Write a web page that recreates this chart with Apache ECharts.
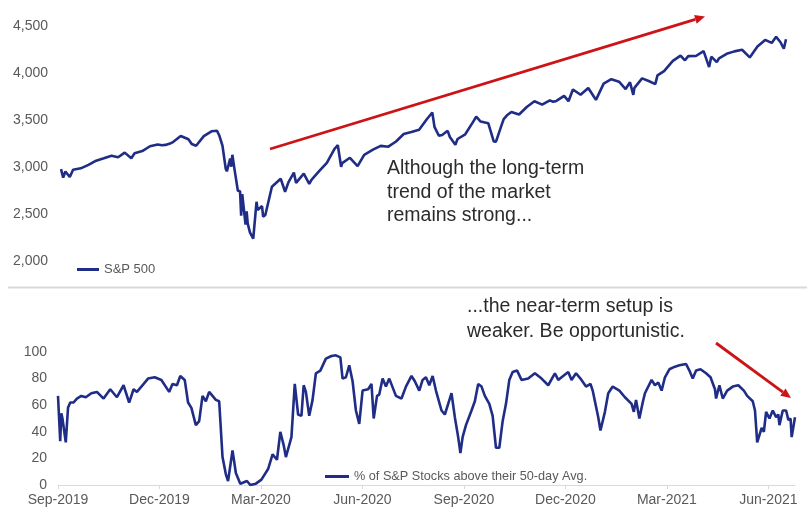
<!DOCTYPE html>
<html><head><meta charset="utf-8">
<script src="https://cdn.jsdelivr.net/npm/echarts@6/dist/echarts.min.js"></script>
<style>html,body{margin:0;padding:0;background:#fff}#c{width:807px;height:510px}</style>
</head><body><div id="c"></div>
<script>
const startDate = '2019-09-30';
const xTickLabels = ['Sep-2019','Dec-2019','Mar-2020','Jun-2020','Sep-2020','Dec-2020','Mar-2021','Jun-2021'];
const spxTickValues = [2000, 2500, 3000, 3500, 4000, 4500];
const breadthTickValues = [0, 20, 40, 60, 80, 100];

const spxDates = ['2019-09-30','2019-10-02','2019-10-04','2019-10-08','2019-10-11','2019-10-18','2019-10-25','2019-11-01','2019-11-08','2019-11-15','2019-11-21','2019-11-27','2019-12-03','2019-12-06','2019-12-13','2019-12-20','2019-12-27','2019-12-31',
'2020-01-03','2020-01-08','2020-01-10','2020-01-17','2020-01-24','2020-01-27','2020-01-31','2020-02-07','2020-02-14','2020-02-19','2020-02-21','2020-02-24','2020-02-27','2020-02-28','2020-03-02','2020-03-03','2020-03-04','2020-03-06','2020-03-09','2020-03-11','2020-03-12','2020-03-13','2020-03-16','2020-03-17','2020-03-18','2020-03-20','2020-03-23','2020-03-26','2020-03-27','2020-03-31','2020-04-01','2020-04-03','2020-04-09','2020-04-17','2020-04-21','2020-04-24','2020-04-29','2020-05-01','2020-05-08','2020-05-13','2020-05-15','2020-05-22','2020-05-29','2020-06-05','2020-06-08','2020-06-11','2020-06-12','2020-06-19','2020-06-26','2020-07-02','2020-07-10','2020-07-17','2020-07-24','2020-07-31','2020-08-07','2020-08-14','2020-08-21','2020-08-28','2020-09-02','2020-09-04','2020-09-08','2020-09-11','2020-09-16','2020-09-18','2020-09-23','2020-09-25','2020-10-02','2020-10-09','2020-10-12','2020-10-16','2020-10-23','2020-10-28','2020-10-30','2020-11-04','2020-11-06','2020-11-09','2020-11-13','2020-11-20','2020-11-27','2020-12-04','2020-12-11','2020-12-18','2020-12-21','2020-12-24','2020-12-31',
'2021-01-04','2021-01-08','2021-01-15','2021-01-22','2021-01-27','2021-01-29','2021-02-05','2021-02-12','2021-02-19','2021-02-25','2021-02-26','2021-03-01','2021-03-04','2021-03-05','2021-03-12','2021-03-18','2021-03-19','2021-03-24','2021-03-26','2021-04-01','2021-04-09','2021-04-16','2021-04-20','2021-04-23','2021-04-30','2021-05-07','2021-05-12','2021-05-14','2021-05-19','2021-05-21','2021-05-28','2021-06-04','2021-06-11','2021-06-18','2021-06-25','2021-07-02','2021-07-08','2021-07-12','2021-07-16','2021-07-19','2021-07-21'];
const spxValues = [2977,2887,2952,2893,2970,2986,3023,3067,3093,3120,3104,3153,3093,3146,3169,3221,3240,3231,
3235,3253,3265,3330,3295,3244,3226,3328,3380,3386,3338,3226,2979,2954,3090,3003,3130,2972,2747,2741,2481,2711,2386,2529,2398,2305,2237,2630,2541,2585,2471,2489,2790,2875,2737,2837,2940,2831,2930,2820,2864,2955,3044,3194,3232,3002,3041,3098,3009,3130,3185,3225,3216,3271,3351,3373,3397,3508,3580,3427,3332,3341,3385,3319,3237,3298,3348,3477,3535,3484,3465,3271,3270,3443,3510,3550,3585,3558,3638,3699,3663,3709,3694,3703,3756,
3700,3825,3768,3841,3750,3714,3887,3934,3907,3829,3811,3901,3768,3842,3943,3915,3913,3881,3975,4020,4129,4185,4135,4180,4181,4233,4063,4174,4116,4156,4204,4230,4247,4166,4281,4352,4320,4385,4327,4258,4359];

const breadthDates = ['2019-09-30','2019-10-02','2019-10-03','2019-10-04','2019-10-07','2019-10-09','2019-10-11','2019-10-14','2019-10-17','2019-10-21','2019-10-25','2019-10-30','2019-11-04','2019-11-10','2019-11-16','2019-11-22','2019-11-28','2019-12-03','2019-12-07','2019-12-10','2019-12-14','2019-12-20','2019-12-26',
'2020-01-01','2020-01-08','2020-01-11','2020-01-15','2020-01-18','2020-01-22','2020-01-25','2020-01-28','2020-02-01','2020-02-04','2020-02-07','2020-02-10','2020-02-13','2020-02-19','2020-02-22','2020-02-25','2020-02-28','2020-03-01','2020-03-05','2020-03-08','2020-03-12','2020-03-18','2020-03-21','2020-03-26','2020-03-31','2020-04-06','2020-04-10','2020-04-14','2020-04-17','2020-04-20','2020-04-22','2020-04-27','2020-04-30','2020-05-03','2020-05-06','2020-05-08','2020-05-10','2020-05-13','2020-05-16','2020-05-19','2020-05-23','2020-05-28','2020-06-02','2020-06-06','2020-06-10','2020-06-12','2020-06-15','2020-06-18','2020-06-21','2020-06-24','2020-06-27','2020-06-30','2020-07-05','2020-07-08','2020-07-10','2020-07-13','2020-07-15','2020-07-18','2020-07-21','2020-07-24','2020-07-30','2020-08-04','2020-08-08','2020-08-13','2020-08-16','2020-08-20','2020-08-23','2020-08-26','2020-08-29','2020-09-01','2020-09-04','2020-09-09','2020-09-12','2020-09-15','2020-09-18','2020-09-21','2020-09-24','2020-09-26','2020-09-28','2020-10-01','2020-10-06','2020-10-09','2020-10-12','2020-10-15','2020-10-18','2020-10-22','2020-10-25','2020-10-28','2020-10-31','2020-11-03','2020-11-06','2020-11-09','2020-11-12','2020-11-16','2020-11-20','2020-11-26','2020-12-02','2020-12-08','2020-12-14','2020-12-20','2020-12-23','2020-12-26',
'2021-01-01','2021-01-04','2021-01-08','2021-01-12','2021-01-17','2021-01-21','2021-01-23','2021-01-28','2021-01-30','2021-02-03','2021-02-06','2021-02-10','2021-02-16','2021-02-21','2021-02-27','2021-03-01','2021-03-03','2021-03-06','2021-03-09','2021-03-11','2021-03-17','2021-03-20','2021-03-23','2021-03-26','2021-03-29','2021-04-02','2021-04-07','2021-04-11','2021-04-17','2021-04-20','2021-04-23','2021-04-26','2021-04-30','2021-05-05','2021-05-09','2021-05-13','2021-05-14','2021-05-17','2021-05-20','2021-05-24','2021-05-29','2021-06-03','2021-06-08','2021-06-11','2021-06-16','2021-06-18','2021-06-20','2021-06-24','2021-06-26','2021-06-28','2021-07-01','2021-07-04','2021-07-07','2021-07-09','2021-07-10','2021-07-13','2021-07-16','2021-07-18','2021-07-20','2021-07-21','2021-07-24'];
const breadthValues = [67,33,54,50,32,58,62,62,65,67,66,69,70,65,72,66,75,62,72,70,74,80,81,
79,70,76,75,82,79,62,58,45,48,67,63,70,64,63,21,8,3,26,9,1,3,0,1,4,12,23,19,40,30,21,36,76,53,52,75,70,52,64,84,86,95,97,97.5,96,80,81,90,78,56,46,71,72,76,50,67,68,80,74,80,67,65,74,82,78,71,79,81,75,82,71,56,53,61,69,51,36,24,36,45,56,63,76,74,67,61,52,28,28,48,61,79,85,86,79,80,84,80,75,84,79,81,
85,79,84,80,74,76,71,51,41,55,69,74,71,66,61,55,64,50,62,69,79,75,77,71,81,87,89,90,91,86,80,86,87,84,81,72,65,75,65,71,74,75,71,67,63,56,32,43,40,55,50,56,51,53,45,56,56,49,50,36,51];

const DAY = 864e5;
const t0 = Date.parse(startDate);
const dayOf = d => (Date.parse(d) - t0) / DAY;
const spxData = spxDates.map((d, i) => [dayOf(d), spxValues[i]]);
const breadthData = breadthDates.map((d, i) => [dayOf(d), breadthValues[i]]);
const quarter = dayOf('2021-06-30') / 7;

const FONT = "'Liberation Sans', Arial, sans-serif";
const NAVY = '#1F2D86';
const RED = '#CC1417';
const GRAY = '#595959';
const NOTE_FONT = "19.5px 'Liberation Sans', Arial, sans-serif";

const chart = echarts.init(document.getElementById('c'), null, {renderer: 'canvas'});
chart.setOption({
  animation: false,
  backgroundColor: '#fff',
  textStyle: {fontFamily: FONT},
  grid: [
    {left: 61, right: 21, top: 26, height: 235},
    {left: 58, right: 12, top: 352, height: 133}
  ],
  xAxis: [
    {gridIndex: 0, type: 'value', min: 0, max: dayOf('2021-07-21'), show: false},
    {gridIndex: 1, type: 'value', min: 0, max: dayOf('2021-07-24'), interval: quarter,
     axisLine: {show: true, lineStyle: {color: '#D9D9D9', width: 1}},
     axisTick: {show: true, length: 4, lineStyle: {color: '#D9D9D9'}},
     splitLine: {show: false},
     axisLabel: {color: GRAY, fontSize: 14, fontFamily: FONT, margin: 8, showMaxLabel: false,
       formatter: v => { const k = v / quarter; const r = Math.round(k); return Math.abs(k - r) < 0.01 && xTickLabels[r] ? xTickLabels[r] : ''; }}}
  ],
  yAxis: [
    {gridIndex: 0, type: 'value', min: spxTickValues[0], max: spxTickValues[spxTickValues.length-1], interval: 500,
     axisLine: {show: false}, axisTick: {show: false}, splitLine: {show: false},
     axisLabel: {color: GRAY, fontSize: 14, fontFamily: FONT, margin: 13, formatter: v => v.toLocaleString('en-US')}},
    {gridIndex: 1, type: 'value', min: breadthTickValues[0], max: breadthTickValues[breadthTickValues.length-1], interval: 20,
     axisLine: {show: false}, axisTick: {show: false}, splitLine: {show: false},
     axisLabel: {color: GRAY, fontSize: 14, fontFamily: FONT, margin: 11}}
  ],
  legend: [
    {data: ['S&P 500'], left: 77, top: 263, padding: 0, icon: 'rect', itemWidth: 22, itemHeight: 3,
     textStyle: {color: GRAY, fontSize: 13, fontFamily: FONT}},
    {data: ['% of S&P Stocks above their 50-day Avg.'], left: 325, top: 470, padding: 0, icon: 'rect', itemWidth: 24, itemHeight: 3,
     textStyle: {color: GRAY, fontSize: 12.7, fontFamily: FONT}}
  ],
  series: [
    {name: 'S&P 500', type: 'line', xAxisIndex: 0, yAxisIndex: 0, data: spxData, showSymbol: false,
     color: NAVY, lineStyle: {color: NAVY, width: 2.6}},
    {name: '% of S&P Stocks above their 50-day Avg.', type: 'line', xAxisIndex: 1, yAxisIndex: 1, data: breadthData, showSymbol: false,
     color: NAVY, lineStyle: {color: NAVY, width: 2.6}}
  ],
  graphic: [
    {type: 'line', shape: {x1: 8, y1: 287.5, x2: 807, y2: 287.5}, style: {stroke: '#D9D9D9', lineWidth: 2}},
    {type: 'line', shape: {x1: 270, y1: 149, x2: 695.4, y2: 19.4}, style: {stroke: RED, lineWidth: 2.8}},
    {type: 'polygon', shape: {points: [[705, 16.5], [696.7, 23.7], [694.1, 15.1]]}, style: {fill: RED}},
    {type: 'line', shape: {x1: 716, y1: 343, x2: 782.9, y2: 392.1}, style: {stroke: RED, lineWidth: 2.8}},
    {type: 'polygon', shape: {points: [[791, 398], [780.2, 395.7], [785.6, 388.5]]}, style: {fill: RED}},
    {type: 'text', left: 387, top: 157, style: {text: 'Although the long-term\ntrend of the market\nremains strong...', font: NOTE_FONT, fill: '#2b2b2b', lineHeight: 23.5}},
    {type: 'text', left: 467, top: 294, style: {text: '...the near-term setup is\nweaker. Be opportunistic.', font: NOTE_FONT, fill: '#2b2b2b', lineHeight: 25}}
  ]
});
</script>
</body></html>
